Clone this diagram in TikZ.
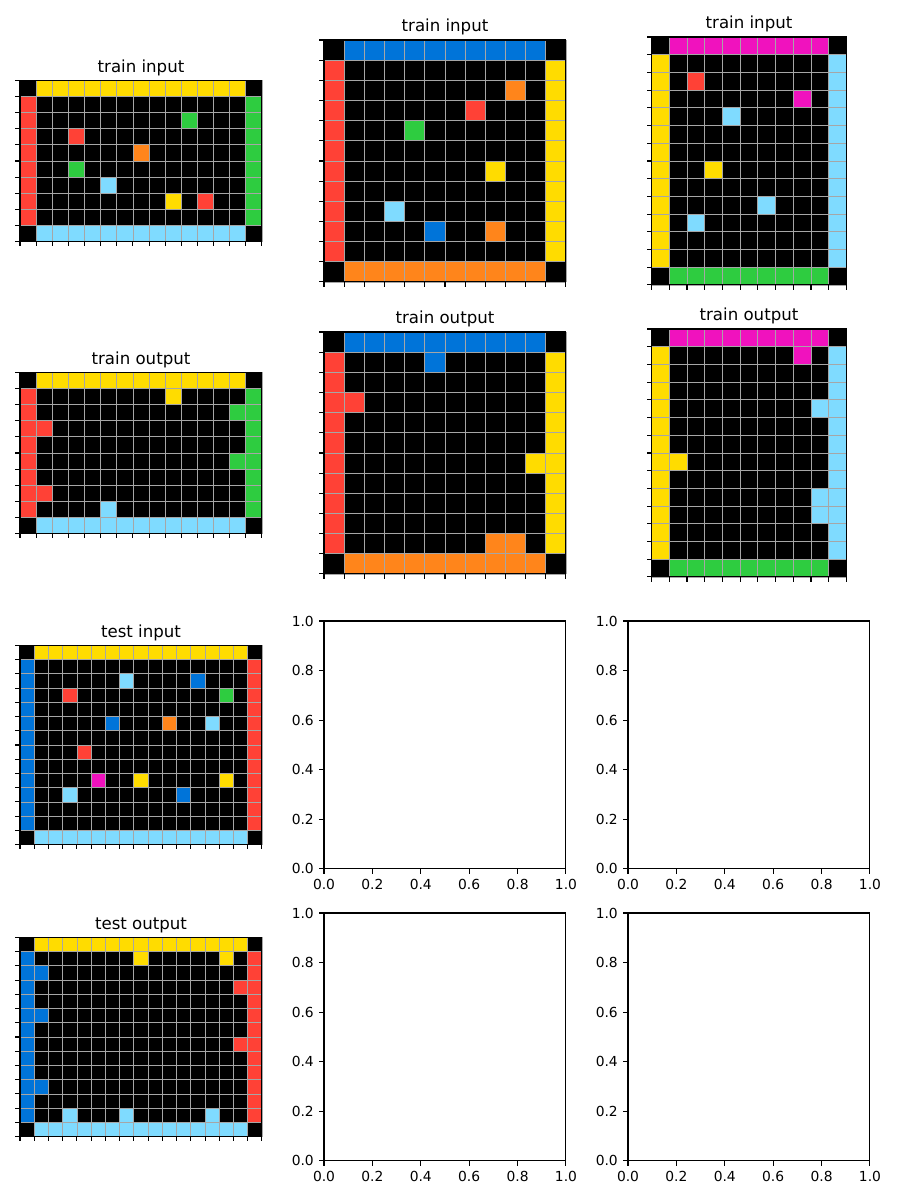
\documentclass[tikz,border=0pt]{standalone}
\usepackage{fontspec}
\setmainfont{DejaVu Sans}
\usetikzlibrary{positioning}
\definecolor{arcblue}{HTML}{0074D9}
\definecolor{arcred}{HTML}{FF4136}
\definecolor{arcgreen}{HTML}{2ECC40}
\definecolor{arcyellow}{HTML}{FFDC00}
\definecolor{arcmagenta}{HTML}{F012BE}
\definecolor{arcorange}{HTML}{FF851B}
\definecolor{arccyan}{HTML}{7FDBFF}
% black ground with the four coloured edges: cols, rows, top, bottom, left, right
\newcommand{\cellframe}[6]{%
  \fill[black] (0,0) rectangle (#1,#2);
  \fill[#3] (1,0) rectangle (#1-1,1);
  \fill[#4] (1,#2-1) rectangle (#1-1,#2);
  \fill[#5] (0,1) rectangle (1,#2-1);
  \fill[#6] (#1-1,1) rectangle (#1,#2-1);}
% grid lines, frame and ticks: cols, rows
\newcommand{\cellgrid}[2]{%
  \foreach \i in {0,...,#1} \draw[gridline] (\i,0) -- (\i,#2);
  \foreach \j in {0,...,#2} \draw[gridline] (0,\j) -- (#1,\j);
  \draw[spine] (0,0) rectangle (#1,#2);
  \foreach \i in {0,...,#1} \draw[tickmark] (\i,#2) -- ++(0pt,-2.76pt);
  \foreach \j in {0,...,#2} \draw[tickmark] (0,\j) -- ++(-2.76pt,0pt);}
% empty axes with 0..1 ticks: name
\newcommand{\emptyaxes}[1]{%
  \draw[spine] (0,0) rectangle (1,1);
  \foreach \v/\t [count=\n] in {0/0.0,0.2/0.2,0.4/0.4,0.6/0.6,0.8/0.8,1/1.0} {
    \draw[tickmark] (\v,1) -- ++(0pt,-2.76pt)
      node[ticklabel, anchor=north, yshift=-2.76pt] (#1x\n) {\t};
    \draw[tickmark] (0,1-\v) -- ++(-2.76pt,0pt)
      node[ticklabel, anchor=east, xshift=-2.76pt] (#1y\n) {\t};
  }}

\begin{document}
\begin{tikzpicture}[x=0.02cm, y=-0.02cm,
  cells/.style={x=#1cm, y=-#1cm},
  axbox/.style={x=4.84cm, y=-4.96cm},
  gridline/.style={draw=black!35, line width=0.45pt},
  spine/.style={draw=black, line width=0.6pt},
  tickmark/.style={draw=black, line width=0.6pt},
  ticklabel/.style={font=\fontsize{7.87}{9}\selectfont, inner sep=0pt},
  title/.style={font=\fontsize{9.45}{11}\selectfont, inner sep=0pt, anchor=base}]

\useasboundingbox (0,0) rectangle (900,1200);
\fill[white] (0,0) rectangle (900,1200);

% ===== row 1: train inputs =====
\begin{scope}[shift={(20,80.33)}, cells=0.32267]
  \cellframe{15}{10}{arcyellow}{arccyan}{arcred}{arcgreen}
  \foreach \c/\r/\k in {10/2/arcgreen, 3/3/arcred, 7/4/arcorange, 3/5/arcgreen,
      5/6/arccyan, 9/7/arcyellow, 11/7/arcred}
    \fill[\k] (\c,\r) rectangle ++(1,1);
  \cellgrid{15}{10}
\end{scope}
\node[title] (tin1) at (141,72) {train input};

\begin{scope}[shift={(324,40)}, cells=0.40333]
  \cellframe{12}{12}{arcblue}{arcorange}{arcred}{arcyellow}
  \foreach \c/\r/\k in {9/2/arcorange, 7/3/arcred, 4/4/arcgreen, 8/6/arcyellow,
      3/8/arccyan, 5/9/arcblue, 8/9/arcorange}
    \fill[\k] (\c,\r) rectangle ++(1,1);
  \cellgrid{12}{12}
\end{scope}
\node[title] (tin2) at (445,31.67) {train input};

\begin{scope}[shift={(651.57,37)}, cells=0.35429]
  \cellframe{11}{14}{arcmagenta}{arcgreen}{arcyellow}{arccyan}
  \foreach \c/\r/\k in {2/2/arcred, 8/3/arcmagenta, 4/4/arccyan, 3/7/arcyellow,
      6/9/arccyan, 2/10/arccyan}
    \fill[\k] (\c,\r) rectangle ++(1,1);
  \cellgrid{11}{14}
\end{scope}
\node[title] (tin3) at (749,28.67) {train input};

% ===== row 2: train outputs =====
\begin{scope}[shift={(20,372.33)}, cells=0.32267]
  \cellframe{15}{10}{arcyellow}{arccyan}{arcred}{arcgreen}
  \foreach \c/\r/\k in {9/1/arcyellow, 13/2/arcgreen, 1/3/arcred, 13/5/arcgreen,
      1/7/arcred, 5/8/arccyan}
    \fill[\k] (\c,\r) rectangle ++(1,1);
  \cellgrid{15}{10}
\end{scope}
\node[title] (tout1) at (141,364) {train output};

\begin{scope}[shift={(324,332)}, cells=0.40333]
  \cellframe{12}{12}{arcblue}{arcorange}{arcred}{arcyellow}
  \foreach \c/\r/\k in {5/1/arcblue, 1/3/arcred, 10/6/arcyellow, 8/10/arcorange,
      9/10/arcorange}
    \fill[\k] (\c,\r) rectangle ++(1,1);
  \cellgrid{12}{12}
\end{scope}
\node[title] (tout2) at (445,323.67) {train output};

\begin{scope}[shift={(651.57,329)}, cells=0.35429]
  \cellframe{11}{14}{arcmagenta}{arcgreen}{arcyellow}{arccyan}
  \foreach \c/\r/\k in {8/1/arcmagenta, 9/4/arccyan, 1/7/arcyellow, 9/9/arccyan,
      9/10/arccyan}
    \fill[\k] (\c,\r) rectangle ++(1,1);
  \cellgrid{11}{14}
\end{scope}
\node[title] (tout3) at (749,320.67) {train output};

% ===== row 3: test input =====
\begin{scope}[shift={(20,645.35)}, cells=0.28471]
  \cellframe{17}{14}{arcyellow}{arccyan}{arcblue}{arcred}
  \foreach \c/\r/\k in {7/2/arccyan, 12/2/arcblue, 3/3/arcred, 14/3/arcgreen,
      6/5/arcblue, 10/5/arcorange, 13/5/arccyan, 4/7/arcred, 5/9/arcmagenta,
      8/9/arcyellow, 14/9/arcyellow, 3/10/arccyan, 11/10/arcblue}
    \fill[\k] (\c,\r) rectangle ++(1,1);
  \cellgrid{17}{14}
\end{scope}
\node[title] (tstin) at (141,637) {test input};

\begin{scope}[shift={(324,621)}, axbox]
  \emptyaxes{ea}
\end{scope}
\begin{scope}[shift={(628,621)}, axbox]
  \emptyaxes{eb}
\end{scope}

% ===== row 4: test output =====
\begin{scope}[shift={(20,937.35)}, cells=0.28471]
  \cellframe{17}{14}{arcyellow}{arccyan}{arcblue}{arcred}
  \foreach \c/\r/\k in {8/1/arcyellow, 14/1/arcyellow, 1/2/arcblue, 1/5/arcblue,
      1/10/arcblue, 15/3/arcred, 15/7/arcred, 3/12/arccyan, 7/12/arccyan,
      13/12/arccyan}
    \fill[\k] (\c,\r) rectangle ++(1,1);
  \cellgrid{17}{14}
\end{scope}
\node[title] (tstout) at (141,929) {test output};

\begin{scope}[shift={(324,913)}, axbox]
  \emptyaxes{ec}
\end{scope}
\begin{scope}[shift={(628,913)}, axbox]
  \emptyaxes{ed}
\end{scope}

\end{tikzpicture}
\end{document}
